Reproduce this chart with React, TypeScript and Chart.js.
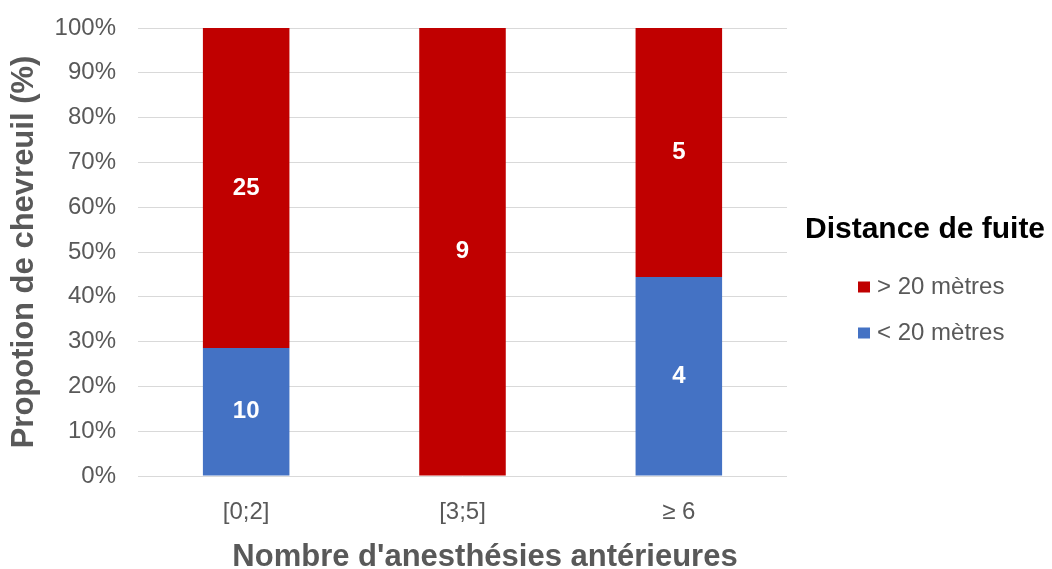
import { useEffect, useRef } from "react";
import { Chart, registerables } from "chart.js";

Chart.register(...registerables);

const categories = ["[0;2]", "[3;5]", "≥ 6"];
const below20 = [10, 0, 4];
const above20 = [25, 9, 5];
const seriesLabels = ["< 20 mètres", "> 20 mètres"];
const legendTitle = "Distance de fuite";
const xTitle = "Nombre d'anesthésies antérieures";
const yTitle = "Propotion de chevreuil (%)";

const BLUE = "#4472C4";
const RED = "#C00000";
const GRAY = "#595959";
const FONT = "'Liberation Sans', Arial, sans-serif";

const totals = categories.map((_, i) => below20[i] + above20[i]);
const toPct = (arr: number[]) => arr.map((v, i) => (v / totals[i]) * 100);

const dataLabelPlugin = {
  id: "dataLabels",
  afterDatasetsDraw(chart: any) {
    const ctx = chart.ctx;
    ctx.save();
    ctx.font = `bold 24px ${FONT}`;
    ctx.fillStyle = "#FFFFFF";
    ctx.textAlign = "center";
    ctx.textBaseline = "middle";
    chart.data.datasets.forEach((ds: any, di: number) => {
      const meta = chart.getDatasetMeta(di);
      meta.data.forEach((el: any, i: number) => {
        const count = ds.counts[i];
        if (!count) return;
        const y = (el.y + el.base) / 2;
        ctx.fillText(String(count), el.x, y);
      });
    });
    ctx.restore();
  },
};

const customTextPlugin = {
  id: "customText",
  afterDraw(chart: any) {
    const ctx = chart.ctx;
    ctx.save();
    // x axis title
    ctx.font = `bold 31px ${FONT}`;
    ctx.fillStyle = GRAY;
    ctx.textAlign = "center";
    ctx.textBaseline = "alphabetic";
    ctx.fillText(xTitle, 485, 566);

    // legend title
    ctx.font = `bold 30px ${FONT}`;
    ctx.fillStyle = "#000000";
    ctx.textAlign = "left";
    ctx.fillText(legendTitle, 805, 238);

    // legend items (reverse order: top series first)
    const items = [
      { label: seriesLabels[1], color: RED, y: 287 },
      { label: seriesLabels[0], color: BLUE, y: 333 },
    ];
    ctx.font = `24px ${FONT}`;
    ctx.textBaseline = "middle";
    items.forEach((it) => {
      ctx.fillStyle = it.color;
      ctx.fillRect(858, it.y - 5.5, 12, 11);
      ctx.fillStyle = GRAY;
      ctx.fillText(it.label, 877, it.y);
    });
    ctx.restore();
  },
};

export default function App() {
  const ref = useRef<HTMLCanvasElement | null>(null);

  useEffect(() => {
    document.body.style.margin = "0";
    if (!ref.current) return;
    Chart.defaults.font.family = FONT;
    const chart = new Chart(ref.current, {
      type: "bar",
      data: {
        labels: categories,
        datasets: [
          {
            label: seriesLabels[0],
            data: toPct(below20),
            counts: below20,
            backgroundColor: BLUE,
            barPercentage: 0.4,
            categoryPercentage: 1,
          } as any,
          {
            label: seriesLabels[1],
            data: toPct(above20),
            counts: above20,
            backgroundColor: RED,
            barPercentage: 0.4,
            categoryPercentage: 1,
          } as any,
        ],
      },
      options: {
        responsive: false,
        animation: false,
        layout: { padding: { top: 28, right: 265, left: 0, bottom: 0 } },
        plugins: {
          legend: { display: false },
          tooltip: { enabled: false },
        },
        scales: {
          x: {
            stacked: true,
            grid: { display: false, drawTicks: false },
            border: { display: false },
            ticks: {
              color: GRAY,
              font: { size: 24 },
              padding: 22,
            },
            afterFit: (scale: any) => {
              scale.height = 93;
              scale.paddingLeft = 0;
              scale.paddingRight = 0;
            },
          },
          y: {
            stacked: true,
            min: 0,
            max: 100,
            grid: { color: "#D9D9D9", lineWidth: 1, drawTicks: false },
            border: { display: false },
            ticks: {
              stepSize: 10,
              color: GRAY,
              font: { size: 24 },
              padding: 22,
              callback: (v: any) => `${v}%`,
            },
            title: {
              display: true,
              text: yTitle,
              color: GRAY,
              font: { size: 31, weight: "bold" },
              padding: { top: 6, bottom: 0 },
            },
            afterFit: (scale: any) => {
              scale.width = 138;
              scale.paddingTop = 0;
              scale.paddingBottom = 0;
            },
          },
        },
      },
      plugins: [dataLabelPlugin, customTextPlugin],
    });
    return () => chart.destroy();
  }, []);

  return (
    <div style={{ position: "absolute", left: 0, top: 0, width: 1052, height: 569 }}>
      <canvas ref={ref} width={1052} height={569} />
    </div>
  );
}
